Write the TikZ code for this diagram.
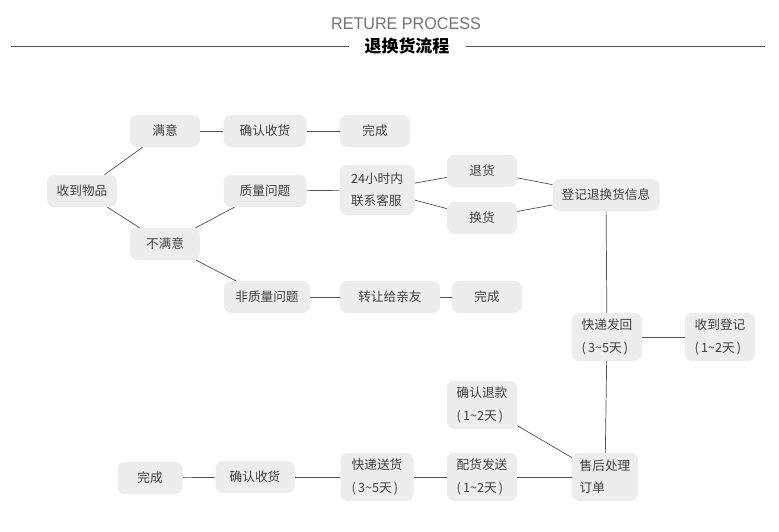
\documentclass[tikz,border=0pt]{standalone}
\usepackage{fontspec}
\setmainfont{Liberation Sans}
\newfontfamily\cjk{Noto Sans CJK SC}
\usepackage{tikz}

\definecolor{boxgray}{HTML}{EDEDED}
\definecolor{txtgray}{HTML}{3F3F3F}
\definecolor{linegray}{HTML}{505050}

\tikzset{
  stage/.style={fill=boxgray, rounded corners=6pt, text=txtgray,
    minimum width=70*0.03cm, minimum height=32*0.03cm, inner sep=2pt,
    font=\cjk\fontsize{10.8}{19}\selectfont, align=left},
  link/.style={draw=linegray, line width=0.6pt}
}

\newcommand{\tday}[2]{(\,#1\textasciitilde #2天\,)}

\begin{document}
\begin{tikzpicture}[x=0.03cm, y=-0.03cm]
\useasboundingbox (0,0) rectangle (779,532);

% title
\node[text=black!55, font=\fontsize{14.5}{15}\selectfont, xscale=0.95] (eng) at (406,24) {RETURE PROCESS};
\node[font=\cjk\bfseries\fontsize{14.5}{15}\selectfont, inner sep=0pt] (title) at (407,46) {退换货流程};
\draw[linegray, line width=0.7pt] (11,46) -- (349,46);
\draw[linegray, line width=0.7pt] (466,46) -- (765,46);

% upper part
\node[stage] (recv) at (82,191) {收到物品};
\node[stage] (ok) at (165,131) {满意};
\node[stage, minimum width=83*0.03cm] (confirmA) at (265,131) {确认收货};
\node[stage] (doneA) at (375,131) {完成};
\node[stage] (notok) at (165,244) {不满意};
\node[stage, minimum width=83*0.03cm] (quality) at (265,191) {质量问题};
\node[stage, minimum width=86*0.03cm] (other) at (267,297) {非质量问题};
\node[stage, minimum width=100*0.03cm] (gift) at (390,297) {转让给亲友};
\node[stage] (doneB) at (487,297) {完成};
\node[stage, minimum width=75*0.03cm, minimum height=50*0.03cm] (service) at (377,190) {24小时内\\联系客服};
\node[stage] (refund) at (482,171) {退货};
\node[stage] (swap) at (482,218) {换货};
\node[stage, minimum width=107*0.03cm] (register) at (606,195) {登记退换货信息};

% right column
\node[stage, minimum height=48*0.03cm] (sendback) at (607,337) {快递发回\\\tday{3}{5}};
\node[stage, minimum height=48*0.03cm] (logged) at (720,337) {收到登记\\\tday{1}{2}};
\node[stage, minimum width=66*0.03cm, minimum height=48*0.03cm] (handle) at (605,477) {售后处理\\订单\hspace{2.2em}};
\node[stage, minimum height=48*0.03cm] (money) at (482,405) {确认退款\\\tday{1}{2}};

% bottom row
\node[stage, minimum height=48*0.03cm] (pack) at (482,477) {配货发送\\\tday{1}{2}};
\node[stage, minimum width=73*0.03cm, minimum height=48*0.03cm] (ship) at (377,477) {快递送货\\\tday{3}{5}};
\node[stage, minimum width=79*0.03cm] (confirmB) at (255,477) {确认收货};
\node[stage, minimum width=65*0.03cm] (doneC) at (150,478) {完成};

% connectors
\draw[link] (recv) -- (ok);
\draw[link] (ok) -- (confirmA);
\draw[link] (confirmA) -- (doneA);
\draw[link] (recv) -- (notok);
\draw[link] (notok) -- (quality);
\draw[link] (notok) -- (other);
\draw[link] (other) -- (gift);
\draw[link] (gift) -- (doneB);
\draw[link] (quality) -- (service);
\draw[link] (service) -- (refund);
\draw[link] (service) -- (swap);
\draw[link] (refund) -- (register);
\draw[link] (swap) -- (register);
\draw[link] (register) -- (sendback);
\draw[link] (sendback) -- (logged);
\draw[link] (sendback) -- (handle);
\draw[link] (money) -- (handle);
\draw[link] (handle) -- (pack);
\draw[link] (pack) -- (ship);
\draw[link] (ship) -- (confirmB);
\draw[link] (confirmB) -- (doneC);
\end{tikzpicture}
\end{document}
